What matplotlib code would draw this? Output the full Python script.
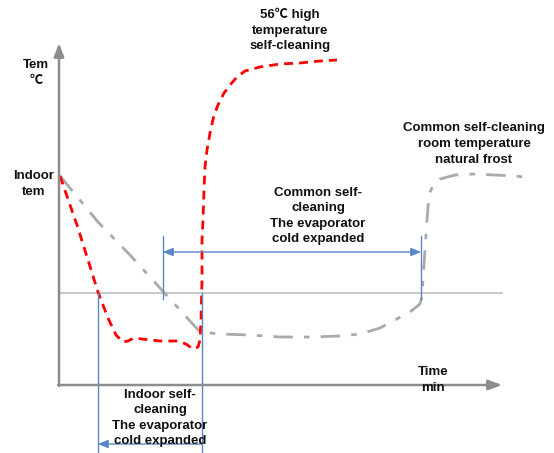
import matplotlib
matplotlib.use("Agg")
import matplotlib.pyplot as plt

# Schematic curve data (time units, temperature units; y grows downward as drawn)
red_t = [60, 70, 77, 88, 98, 108, 116, 123, 128, 134, 142, 160, 178, 186, 193, 198, 200, 201, 202,
         202, 203, 204, 205, 207, 210, 214, 218, 224, 230, 237, 245, 260, 280, 300, 320, 337]
red_v = [176, 205, 225, 260, 292, 318, 335, 342, 341, 338, 339, 341, 341, 344, 349, 347, 340, 320, 280,
         240, 220, 190, 167, 150, 133, 115, 105, 93, 85, 77, 71, 67, 64, 63, 61, 60]

gray_t = [60, 98, 130, 160, 180, 200, 220, 250, 280, 310, 340, 360, 380, 395, 410, 420, 422, 423,
          425, 427, 429, 433, 440, 455, 475, 495, 515, 532]
gray_v = [176, 222, 255, 288, 310, 332, 334, 335, 337, 337, 336, 334, 328, 320, 312, 304, 296, 280,
          250, 220, 195, 185, 179, 175, 174, 175, 176, 178]

ref_level = 293          # horizontal reference (gray) line
origin = (59, 385)       # axis origin
x_end = 502
y_top = 43

common_span = (163, 421)   # common self-cleaning cold expanded interval
common_arrow_y = 252
indoor_span = (98, 202)    # indoor self-cleaning cold expanded interval
indoor_arrow_y = 444

plt.rcParams['font.family'] = ['Liberation Sans', 'Noto Sans CJK SC', 'DejaVu Sans']

fig = plt.figure(figsize=(5.54, 4.53), dpi=100)
ax = fig.add_axes([0, 0, 1, 1])
ax.set_xlim(0, 554)
ax.set_ylim(453, 0)
ax.axis('off')

axis_col = '#8c8c8c'
blue = '#5a86c3'

# axes arrows
ax.annotate('', xy=(x_end, origin[1]), xytext=(origin[0] - 1, origin[1]),
            arrowprops=dict(arrowstyle='-|>,head_length=0.8,head_width=0.3', color=axis_col, lw=1.8,
                            shrinkA=0, shrinkB=0))
ax.annotate('', xy=(origin[0], y_top), xytext=(origin[0], origin[1] + 1),
            arrowprops=dict(arrowstyle='-|>,head_length=0.8,head_width=0.3', color=axis_col, lw=1.8,
                            shrinkA=0, shrinkB=0))

# reference line
ax.plot([origin[0], x_end], [ref_level, ref_level], color='#bdbdbd', lw=1.2)

# curves
ax.plot(gray_t, gray_v, color='#aaaaaa', lw=2, dashes=(7, 4, 2, 4))
ax.plot(red_t, red_v, color='#ff0000', lw=2, dashes=(3.2, 2.2))

# blue annotations - common
for xv in common_span:
    ax.plot([xv, xv], [236, 299], color=blue, lw=1)
ax.annotate('', xy=(common_span[0], common_arrow_y), xytext=(common_span[1], common_arrow_y),
            arrowprops=dict(arrowstyle='<|-|>,head_length=0.6,head_width=0.25', color=blue, lw=1,
                            shrinkA=0, shrinkB=0))
# blue annotations - indoor
for xv in indoor_span:
    ax.plot([xv, xv], [ref_level, 453], color=blue, lw=1)
ax.annotate('', xy=(indoor_span[0], indoor_arrow_y), xytext=(indoor_span[1], indoor_arrow_y),
            arrowprops=dict(arrowstyle='-|>,head_length=0.6,head_width=0.25', color=blue, lw=1,
                            shrinkA=0, shrinkB=0))

tk = dict(fontsize=9.5, fontweight='bold', ha='center', va='center', linespacing=1.4, color='#111111')
ax.text(36, 73, 'Tem\n℃', **tk)
ax.text(34, 184, 'Indoor\ntem', **tk)
ax.text(290, 30, '56℃ high\ntemperature\nself-cleaning', **tk)
ax.text(474, 144, 'Common self-cleaning\nroom temperature\nnatural frost', **tk)
ax.text(318, 216, 'Common self-\ncleaning\nThe evaporator\ncold expanded', **tk)
ax.text(160, 418, 'Indoor self-\ncleaning\nThe evaporator\ncold expanded', **tk)
ax.text(433, 380, 'Time\nmin', **tk)

fig.savefig('out.png', dpi=100, facecolor='white')
